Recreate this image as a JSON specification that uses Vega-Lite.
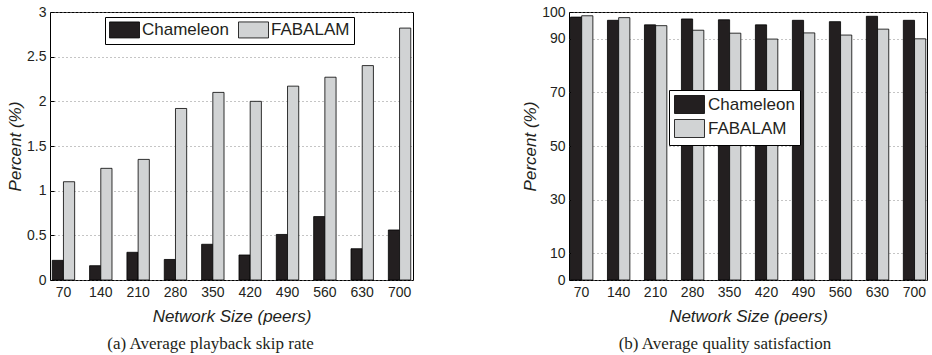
{
  "$schema": "https://vega.github.io/schema/vega-lite/v6.json",
  "background": "white",
  "padding": {"left": 6, "top": 4, "right": 2, "bottom": 1},
  "resolve": {"scale": {"color": "independent"}, "legend": {"color": "independent"}},
  "datasets": {
    "skip": [
      {"size": 70, "method": "Chameleon", "percent": 0.22},
      {"size": 70, "method": "FABALAM", "percent": 1.10},
      {"size": 140, "method": "Chameleon", "percent": 0.16},
      {"size": 140, "method": "FABALAM", "percent": 1.25},
      {"size": 210, "method": "Chameleon", "percent": 0.31},
      {"size": 210, "method": "FABALAM", "percent": 1.35},
      {"size": 280, "method": "Chameleon", "percent": 0.23},
      {"size": 280, "method": "FABALAM", "percent": 1.92},
      {"size": 350, "method": "Chameleon", "percent": 0.40},
      {"size": 350, "method": "FABALAM", "percent": 2.10},
      {"size": 420, "method": "Chameleon", "percent": 0.28},
      {"size": 420, "method": "FABALAM", "percent": 2.00},
      {"size": 490, "method": "Chameleon", "percent": 0.51},
      {"size": 490, "method": "FABALAM", "percent": 2.17},
      {"size": 560, "method": "Chameleon", "percent": 0.71},
      {"size": 560, "method": "FABALAM", "percent": 2.27},
      {"size": 630, "method": "Chameleon", "percent": 0.35},
      {"size": 630, "method": "FABALAM", "percent": 2.40},
      {"size": 700, "method": "Chameleon", "percent": 0.56},
      {"size": 700, "method": "FABALAM", "percent": 2.82}
    ],
    "quality": [
      {"size": 70, "method": "Chameleon", "percent": 98.1},
      {"size": 70, "method": "FABALAM", "percent": 98.6},
      {"size": 140, "method": "Chameleon", "percent": 96.9},
      {"size": 140, "method": "FABALAM", "percent": 97.9},
      {"size": 210, "method": "Chameleon", "percent": 95.2},
      {"size": 210, "method": "FABALAM", "percent": 94.9},
      {"size": 280, "method": "Chameleon", "percent": 97.4},
      {"size": 280, "method": "FABALAM", "percent": 93.2},
      {"size": 350, "method": "Chameleon", "percent": 97.1},
      {"size": 350, "method": "FABALAM", "percent": 92.1},
      {"size": 420, "method": "Chameleon", "percent": 95.2},
      {"size": 420, "method": "FABALAM", "percent": 89.9},
      {"size": 490, "method": "Chameleon", "percent": 96.9},
      {"size": 490, "method": "FABALAM", "percent": 92.2},
      {"size": 560, "method": "Chameleon", "percent": 96.4},
      {"size": 560, "method": "FABALAM", "percent": 91.4},
      {"size": 630, "method": "Chameleon", "percent": 98.4},
      {"size": 630, "method": "FABALAM", "percent": 93.6},
      {"size": 700, "method": "Chameleon", "percent": 96.9},
      {"size": 700, "method": "FABALAM", "percent": 90.0}
    ]
  },
  "config": {
    "font": "Liberation Sans",
    "view": {"stroke": "black", "strokeWidth": 1},
    "axis": {
      "labelFont": "Liberation Sans", "labelFontSize": 14, "labelColor": "#231f20",
      "titleFont": "Liberation Sans", "titleFontSize": 17, "titleFontStyle": "italic",
      "titleFontWeight": "normal", "titleColor": "#231f20",
      "domainColor": "black", "tickColor": "black",
      "gridColor": "#8a8a8a", "gridDash": [1, 3], "gridWidth": 1
    },
    "legend": {
      "labelFont": "Liberation Sans", "labelFontSize": 17, "labelColor": "#231f20",
      "strokeColor": "black", "fillColor": "white",
      "symbolStrokeColor": "black", "symbolStrokeWidth": 0.8, "symbolOpacity": 1
    },
    "title": {"font": "Liberation Serif", "fontSize": 17, "fontWeight": "normal", "color": "#231f20"},
    "concat": {"spacing": 107}
  },
  "hconcat": [
    {
      "width": 363,
      "height": 268,
      "data": {"name": "skip"},
      "title": {"text": "(a) Average playback skip rate", "orient": "bottom", "offset": 12, "dx": -21},
      "mark": {"type": "bar", "stroke": "black", "strokeWidth": 0.8},
      "encoding": {
        "x": {"field": "size", "type": "ordinal",
          "scale": {"paddingInner": 0.4, "paddingOuter": 0.06},
          "axis": {"title": "Network Size (peers)", "labelAngle": 0, "tickSize": -4, "labelPadding": 9, "grid": false, "domain": false, "titlePadding": 9}},
        "xOffset": {"field": "method", "type": "nominal", "scale": {"paddingInner": 0, "paddingOuter": 0}},
        "y": {"field": "percent", "type": "quantitative",
          "scale": {"domain": [0, 3], "nice": false},
          "axis": {"values": [0, 0.5, 1, 1.5, 2, 2.5, 3], "format": "~g", "title": "Percent (%)", "tickSize": -4, "labelPadding": 8, "grid": true, "domain": false, "titlePadding": 2}},
        "color": {"field": "method", "type": "nominal",
          "scale": {"domain": ["Chameleon", "FABALAM"], "range": ["#231f20", "#d1d3d4"]},
          "legend": {"title": null, "orient": "none", "legendX": 55, "legendY": 5, "direction": "horizontal",
            "padding": 4, "symbolType": "M-1,-1H2.75V1H-1Z", "symbolSize": 256, "labelOffset": 16, "columnPadding": 7}}
      }
    },
    {
      "width": 358,
      "height": 268,
      "data": {"name": "quality"},
      "title": {"text": "(b) Average quality satisfaction", "orient": "bottom", "offset": 12, "dx": -23},
      "mark": {"type": "bar", "stroke": "black", "strokeWidth": 0.8},
      "encoding": {
        "x": {"field": "size", "type": "ordinal",
          "scale": {"paddingInner": 0.4, "paddingOuter": 0.04},
          "axis": {"title": "Network Size (peers)", "labelAngle": 0, "tickSize": -4, "labelPadding": 9, "grid": false, "domain": false, "titlePadding": 9}},
        "xOffset": {"field": "method", "type": "nominal", "scale": {"paddingInner": 0, "paddingOuter": 0}},
        "y": {"field": "percent", "type": "quantitative",
          "scale": {"domain": [0, 100], "nice": false},
          "axis": {"values": [0, 10, 30, 50, 70, 90, 100], "title": "Percent (%)", "tickSize": -4, "labelPadding": 8, "grid": true, "domain": false, "titlePadding": 2}},
        "color": {"field": "method", "type": "nominal",
          "scale": {"domain": ["Chameleon", "FABALAM"], "range": ["#231f20", "#d1d3d4"]},
          "legend": {"title": null, "orient": "none", "legendX": 100, "legendY": 78, "direction": "vertical",
            "padding": 5, "symbolType": "M-1,-1H2.333V1H-1Z", "symbolSize": 324, "labelOffset": 15, "rowPadding": 1}}
      }
    }
  ]
}
